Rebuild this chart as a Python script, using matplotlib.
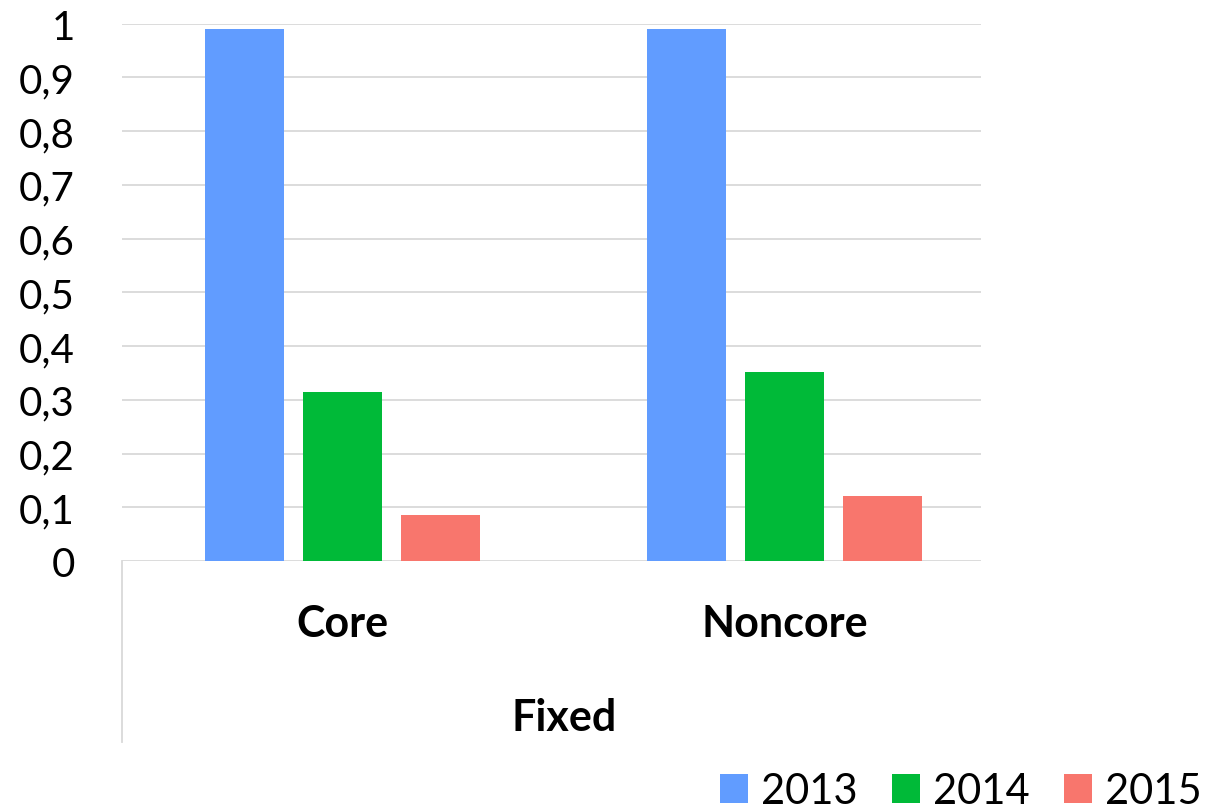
import numpy as np
import matplotlib.pyplot as plt
from matplotlib.patches import Patch

categories = ['Core', 'Noncore']
group_label = 'Fixed'
years = ['2013', '2014', '2015']
values_2013 = [0.99, 0.99]
values_2014 = [0.315, 0.351]
values_2015 = [0.086, 0.121]
yticks = [0, 0.1, 0.2, 0.3, 0.4, 0.5, 0.6, 0.7, 0.8, 0.9, 1]
ytick_labels = ['0', '0,1', '0,2', '0,3', '0,4', '0,5', '0,6', '0,7', '0,8', '0,9', '1']

colors = ['#619CFF', '#00BA38', '#F8766D']
grid_color = '#d9d9d9'

plt.rcParams['font.family'] = ['Lato', 'DejaVu Sans']

W, H = 1212, 812
fig = plt.figure(figsize=(W / 100, H / 100), dpi=100)
ax = fig.add_axes([122 / W, (H - 562) / H, (981 - 122) / W, (562 - 24.5) / H])

x = np.arange(len(categories))
width = 0.179
offset = 0.222
for k, vals in enumerate([values_2013, values_2014, values_2015]):
    ax.bar(x + (k - 1) * offset, vals, width, color=colors[k], zorder=3)

ax.set_xlim(-0.499, 1.444)
ax.set_ylim(0, 1)
ax.set_yticks(yticks)
ax.set_yticklabels(ytick_labels, fontsize=29)
ax.tick_params(axis='y', length=0, pad=34)
ax.set_xticks([])
ax.yaxis.grid(True, color=grid_color, linewidth=1.3, zorder=0)
for s in ax.spines.values():
    s.set_visible(False)

# category axis (two levels)
ax.plot([0, 0], [0, -0.337], transform=ax.transAxes, color=grid_color,
        linewidth=1.3, clip_on=False)
xt = ax.get_xaxis_transform()
for i, c in enumerate(categories):
    ax.text(i, -0.115, c, transform=xt, ha='center', va='center',
            fontsize=31, fontweight='bold')
ax.text(0.5, -0.29, group_label, transform=xt, ha='center', va='center',
        fontsize=31, fontweight='bold')

handles = [Patch(facecolor=colors[k], label=years[k]) for k in range(3)]
fig.legend(handles=handles, loc='lower right', bbox_to_anchor=(0.995, -0.004),
           ncol=3, frameon=False, fontsize=30, handlelength=0.67,
           handleheight=0.67, handletextpad=0.31, columnspacing=0.83,
           borderpad=0.1, borderaxespad=0.0)

fig.savefig('out.png', dpi=100)
